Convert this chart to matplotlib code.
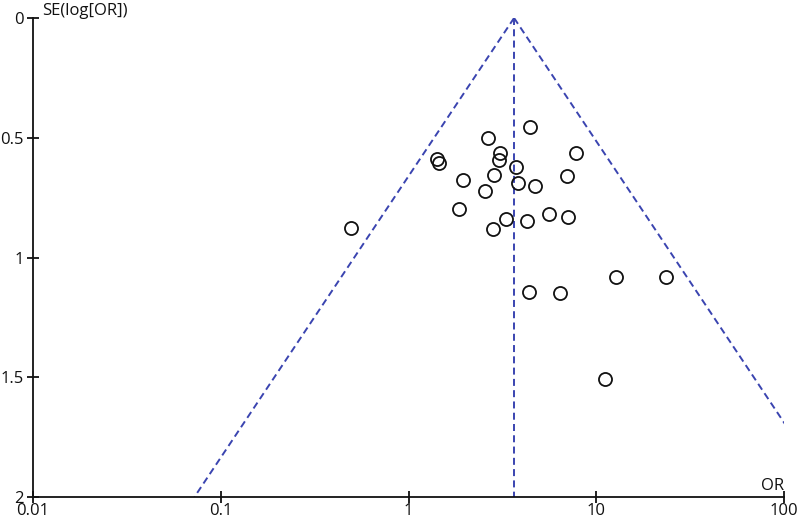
import numpy as np
import matplotlib
matplotlib.use('Agg')
import matplotlib.pyplot as plt

plt.rcParams['font.family'] = ['Open Sans', 'DejaVu Sans']

# study odds ratios and their standard errors (log scale)
odds_ratios = [0.497, 1.42, 1.45, 1.95, 1.86, 2.65, 2.55, 2.86, 3.06, 3.02,
               2.81, 3.29, 3.76, 3.81, 4.43, 4.73, 4.27, 4.36, 5.57, 6.40,
               6.95, 7.06, 7.78, 12.8, 23.5, 11.2]
se_log_or = [0.876, 0.590, 0.607, 0.678, 0.797, 0.502, 0.722, 0.654, 0.562, 0.593,
             0.881, 0.841, 0.621, 0.688, 0.454, 0.700, 0.848, 1.145, 0.820, 1.149,
             0.660, 0.831, 0.564, 1.080, 1.080, 1.507]
pooled_or = 3.65

x_ticks = [0.01, 0.1, 1, 10, 100]
x_tick_labels = ['0.01', '0.1', '1', '10', '100']
y_ticks = [0, 0.5, 1, 1.5, 2]
y_tick_labels = ['0', '0.5', '1', '1.5', '2']

line_color = '#3a44b0'

fig = plt.figure(figsize=(8, 5.18), dpi=100)
ax = fig.add_axes([33 / 800, 1 - 497 / 518, (784 - 33) / 800, (497 - 18) / 518])

# funnel (pseudo 95% limits) and pooled line
se_grid = np.array([0, 2.0])
dash = (0, (3.6, 2.2))
ax.plot(pooled_or * np.exp(-1.96 * se_grid), se_grid, color=line_color,
        linestyle=dash, linewidth=1.4)
ax.plot(pooled_or * np.exp(1.96 * se_grid), se_grid, color=line_color,
        linestyle=dash, linewidth=1.4)
ax.plot([pooled_or, pooled_or], [0, 2], color=line_color,
        linestyle=dash, linewidth=1.4)

ax.plot(odds_ratios, se_log_or, 'o', markersize=9.4, markerfacecolor='none',
        markeredgecolor='#111111', markeredgewidth=1.3, clip_on=False)

ax.set_xscale('log')
ax.set_xlim(0.01, 100)
ax.set_ylim(2, 0)
ax.set_xticks(x_ticks)
ax.set_xticklabels(x_tick_labels)
ax.minorticks_off()
ax.set_yticks(y_ticks)
ax.set_yticklabels(y_tick_labels)

ax.spines['top'].set_visible(False)
ax.spines['right'].set_visible(False)
for s in ('left', 'bottom'):
    ax.spines[s].set_linewidth(1.3)
    ax.spines[s].set_color('#111111')

ax.tick_params(axis='x', direction='inout', length=8, width=1.3, pad=0,
               labelsize=12, colors='#111111')
ax.tick_params(axis='y', direction='inout', length=9, width=1.3, pad=2,
               labelsize=12, colors='#111111')

ax.text(42 / 800, 1 - 15 / 518, 'SE(log[OR])', transform=fig.transFigure,
        fontsize=12, ha='left', va='baseline', color='#111111')
ax.text(784 / 800, 1 - 490 / 518, 'OR', transform=fig.transFigure,
        fontsize=12, ha='right', va='baseline', color='#111111')

fig.savefig('out.png', dpi=100)
